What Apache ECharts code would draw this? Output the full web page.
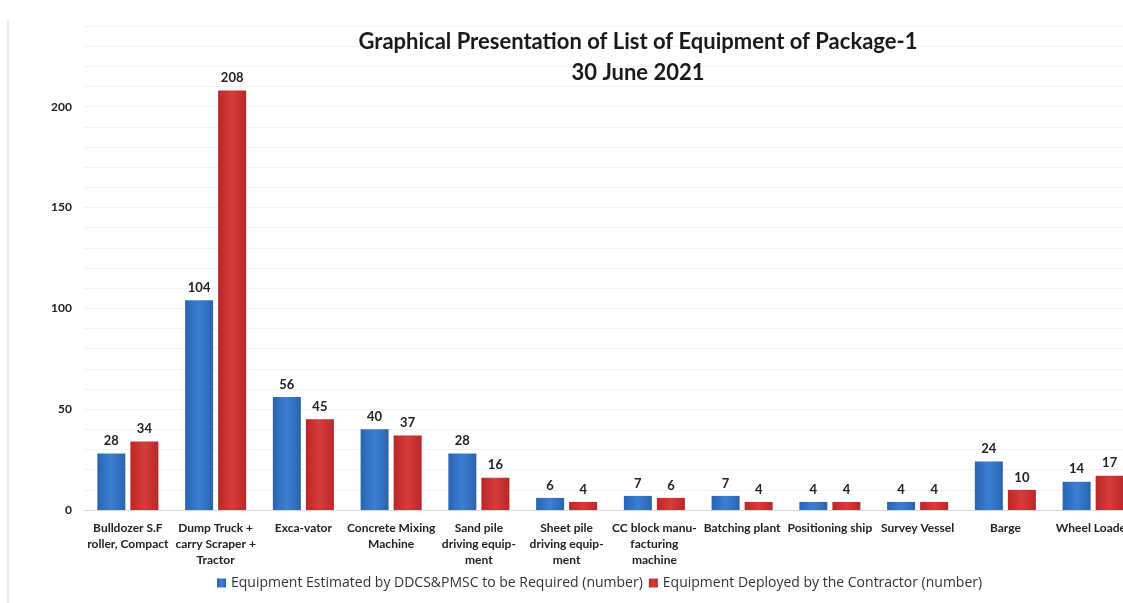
<!DOCTYPE html>
<html><head><meta charset="utf-8">
<script src="https://cdn.jsdelivr.net/npm/echarts@6/dist/echarts.min.js"></script>
<style>html,body{margin:0;padding:0;background:#fff}#c{width:1123px;height:603px}</style>
</head><body><div id="c"></div>
<script>
const categories = ["Bulldozer S.F\nroller, Compact","Dump Truck +\ncarry Scraper +\nTractor","Exca-vator","Concrete Mixing\nMachine","Sand pile\ndriving equip-\nment","Sheet pile\ndriving equip-\nment","CC block manu-\nfacturing\nmachine","Batching plant","Positioning ship","Survey Vessel","Barge","Wheel Loader"];
const estimated = [28,104,56,40,28,6,7,7,4,4,24,14];
const deployed = [34,208,45,37,16,4,6,4,4,4,10,17];
const seriesNames = ["Equipment Estimated by DDCS&PMSC to be Required (number)","Equipment Deployed by the Contractor (number)"];
const titleLines = ["Graphical Presentation of List of Equipment of Package-1","30 June 2021"];
const yTicks = [0,50,100,150,200];

const F = 'Lato,"Liberation Sans",Arial,sans-serif';
const chart = echarts.init(document.getElementById('c'));
function grad(a,b){return new echarts.graphic.LinearGradient(0,0,1,0,[{offset:0,color:a},{offset:0.5,color:b},{offset:1,color:a}]);}
chart.setOption({
  animation:false,
  title:{text:titleLines.join('\n'),left:633,textAlign:'center',top:21,
    textStyle:{fontFamily:F,fontSize:22,fontWeight:'bold',color:'#1a1a1a',lineHeight:31}},
  legend:{bottom:8,left:212,itemWidth:9,itemHeight:9,itemGap:6,icon:'rect',
    textStyle:{fontFamily:'"Open Sans",sans-serif',fontSize:14,color:'#333'}},
  graphic:[{type:'line',shape:{x1:8,y1:20,x2:8,y2:603},style:{stroke:'#e3eaf3',lineWidth:2}}],
  grid:{left:84,width:1053,top:26,bottom:93,outerBoundsMode:'none',containLabel:false},
  xAxis:{type:'category',data:categories,
    axisLine:{lineStyle:{color:'#d9d9d9'}},axisTick:{show:false},
    axisLabel:{interval:0,margin:10,fontFamily:F,fontSize:12,fontWeight:'bold',color:'#222',lineHeight:16}},
  yAxis:{type:'value',min:0,max:240,interval:10,
    axisLine:{show:false},axisTick:{show:false},
    splitLine:{lineStyle:{color:'#f1f1f1'}},
    axisLabel:{margin:12,fontFamily:F,fontSize:12,fontWeight:'bold',color:'#222',
      formatter:v=>yTicks.indexOf(v)>=0?String(v):''}},
  series:[
    {name:seriesNames[0],type:'bar',data:estimated,barWidth:28,barGap:'18%',
      itemStyle:{color:grad('#2a63b0','#3b7fd4')},
      label:{show:true,position:'top',distance:6,fontFamily:F,fontSize:13,fontWeight:'bold',color:'#222'}},
    {name:seriesNames[1],type:'bar',data:deployed,barWidth:28,
      itemStyle:{color:grad('#b82828','#d63c3a')},
      label:{show:true,position:'top',distance:6,fontFamily:F,fontSize:13,fontWeight:'bold',color:'#222'}}
  ],
  color:['#2f6cc0','#c8302f']
});
</script></body></html>
